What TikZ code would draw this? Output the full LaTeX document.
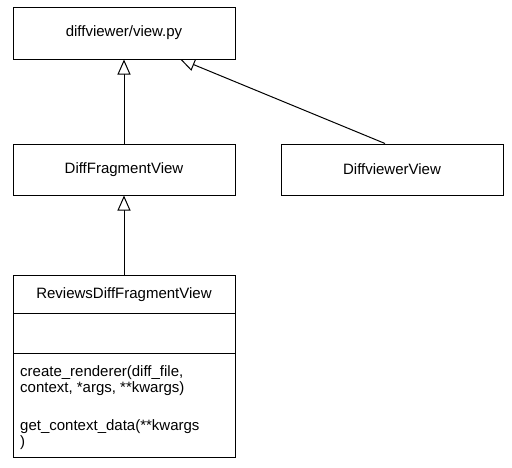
\documentclass[tikz,border=0pt]{standalone}
\usepackage{fontspec}
\setmainfont{Liberation Sans}
\usetikzlibrary{arrows.meta,backgrounds}
\begin{document}
\begin{tikzpicture}[x=1pt,y=-1pt,
  box/.style={draw=black,line width=1pt,fill=white,minimum width=222pt,inner sep=0pt,font=\fontsize{15}{16}\selectfont},
  inherit/.style={draw=black,line width=1pt,-{Triangle[open,length=15pt,width=13pt,fill=white]}},
  sep/.style={draw=black,line width=1pt}]
\useasboundingbox (0,0) rectangle (512,467);
\node[box,minimum height=52pt] (view) at (124,33) {diffviewer/view.py};
\node[box,minimum height=51pt] (dfv) at (124,169.5) {DiffFragmentView};
\node[box,minimum height=51pt] (dvv) at (392,169.5) {DiffviewerView};
\node[box,minimum height=182.3pt] (rdfv) at (124,366.15) {};
\node[font=\fontsize{15}{16}\selectfont] (rtitle) at (124,294.5) {ReviewsDiffFragmentView};
\coordinate (d1l) at (13,313.3);
\coordinate (d1r) at (235,313.3);
\coordinate (d2l) at (13,353.3);
\coordinate (d2r) at (235,353.3);
\draw[sep] (d1l) -- (d1r);
\draw[sep] (d2l) -- (d2r);
\node[anchor=north west,inner sep=0pt,align=left,font=\fontsize{15}{16}\selectfont] (methods) at (20,365.5)
  {create\_renderer(diff\_file,\\context, *args, **kwargs)\\[21.5pt]get\_context\_data(**kwargs\\)};
\coordinate (tip) at (180,59);
\begin{scope}[on background layer]
\draw[inherit] (dfv.north) -- (view.south);
\draw[inherit] (rdfv.north) -- (dfv.south);
\draw[inherit] (dvv.north -| 385,0) -- (tip);
\end{scope}
\end{tikzpicture}
\end{document}
